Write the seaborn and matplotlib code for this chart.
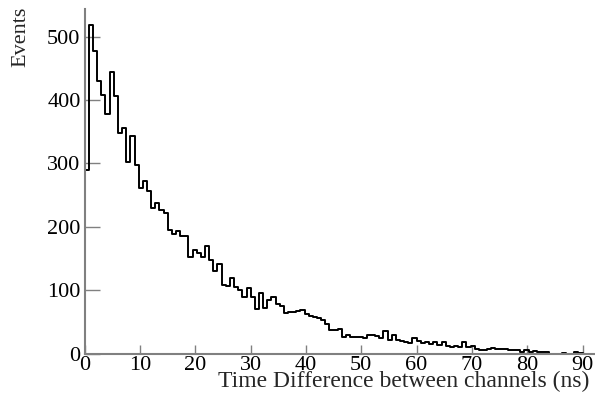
import numpy as np
import pandas as pd
import matplotlib
matplotlib.use('Agg')
import matplotlib.pyplot as plt
import seaborn as sns

# histogram of time differences, 0.75 ns bins starting at 0
bin_width = 0.75
counts = [
    290, 519, 477, 430, 408, 378, 444, 407, 348, 356,
    303, 344, 298, 261, 273, 257, 229, 238, 226, 222,
    195, 188, 194, 186, 186, 153, 163, 158, 152, 169,
    148, 131, 141, 108, 107, 119, 105, 100, 90, 103,
    90, 70, 96, 72, 84, 90, 78, 75, 64, 65,
    66, 67, 69, 62, 60, 58, 56, 53, 46, 37,
    37, 39, 27, 30, 27, 26, 26, 25, 29, 30,
    28, 24, 35, 21, 30, 22, 20, 19, 17, 24,
    20, 16, 18, 15, 18, 14, 18, 12, 11, 12,
    11, 18, 10, 12, 8, 6, 6, 7, 9, 8,
    8, 7, 6, 5, 5, 3, 5, 2, 4, 3,
    2, 3, 0, 0, 0, 1, 0, 0, 2, 1,
    0, 0, 0,
]
x_ticks = [0, 10, 20, 30, 40, 50, 60, 70, 80, 90]
y_ticks = [0, 100, 200, 300, 400, 500]
x_label = 'Time Difference between channels (ns)'
y_label = 'Events'

sns.set_theme(style='ticks')
plt.rcParams['font.family'] = ['Liberation Serif', 'DejaVu Serif']

edges = np.arange(len(counts) + 1) * bin_width
df = pd.DataFrame({'dt': edges[:-1] + bin_width / 2, 'n': counts})

fig = plt.figure(figsize=(5.95, 4.12), dpi=100)
ax = fig.add_axes([0.1424, 0.1417, 0.8576, 0.837])

sns.histplot(data=df, x='dt', weights='n', bins=list(edges), element='step',
             fill=False, color='black', linewidth=1.4, ax=ax)

ax.set_xlim(0, edges[-1])
ax.set_ylim(0, 544)
ax.set_xticks(x_ticks)
ax.set_yticks(y_ticks)
ax.set_xlabel('')
ax.set_ylabel('')

grey = '#808080'
for side in ['top', 'right']:
    ax.spines[side].set_visible(False)
for side in ['left', 'bottom']:
    ax.spines[side].set_color(grey)
    ax.spines[side].set_linewidth(1.5)

ax.tick_params(axis='y', direction='in', length=11, width=1, color=grey,
               labelsize=16, pad=3, labelcolor='black')
ax.tick_params(axis='x', direction='in', length=6.5, width=1, color=grey,
               labelsize=16, pad=1.5, labelcolor='black')

fig.text(589 / 595, 1 - 387 / 412, x_label, ha='right', va='baseline', fontsize=17)
fig.text(21 / 595, 1 - 7 / 412, y_label, ha='center', va='top', rotation=90, fontsize=16)

fig.savefig('out.png', dpi=100)
